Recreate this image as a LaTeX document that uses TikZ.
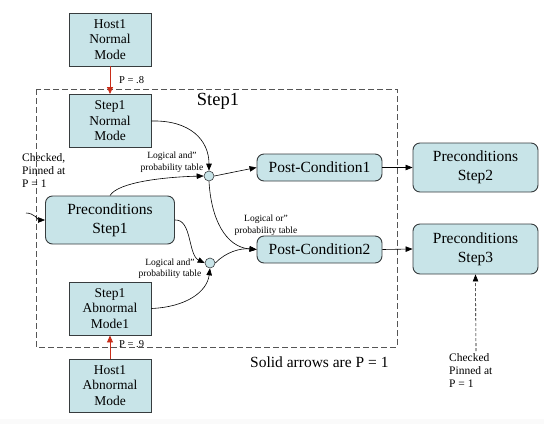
\documentclass[tikz,border=0pt]{standalone}
\usepackage{fontspec}
\setmainfont{Liberation Serif}
\usetikzlibrary{arrows.meta}
\definecolor{boxfill}{RGB}{200,228,232}
\definecolor{boxline}{RGB}{55,60,62}
\definecolor{hostred}{RGB}{200,45,25}
\definecolor{framegray}{RGB}{85,85,85}
\begin{document}
\begin{tikzpicture}[x=1pt,y=-1pt,
  sqbox/.style={draw=boxline,line width=0.9pt,fill=boxfill,align=center,
    minimum width=82pt,minimum height=53pt,inner sep=1pt,
    font=\fontsize{13.5}{15.5}\selectfont},
  rbox/.style={draw=boxline,line width=0.9pt,fill=boxfill,align=center,
    rounded corners=7pt,inner sep=1pt,
    font=\fontsize{15.5}{19}\selectfont},
  joint/.style={circle,draw=boxline,line width=0.6pt,fill=boxfill,
    minimum size=10pt,inner sep=0pt},
  flow/.style={line width=0.6pt,-{Triangle[length=7pt,width=5.5pt]}},
  pflow/.style={hostred,line width=0.9pt,-{Triangle[length=7pt,width=6pt]}},
  note/.style={font=\fontsize{9.5}{11.5}\selectfont,align=center,inner sep=0pt},
  pin/.style={font=\fontsize{11.5}{13}\selectfont,align=left,inner sep=0pt}]
\useasboundingbox (0,0) rectangle (544,424);
\fill[black!2] (0,419) rectangle (544,424);

% Step1 frame
\draw[framegray,line width=0.9pt,dash pattern=on 6pt off 3pt] (36,89) rectangle (397,347);
\node[font=\fontsize{18.5}{20}\selectfont,inner sep=0pt] (steptitle) at (218,101) {Step1};
\node[font=\fontsize{15.5}{18}\selectfont,inner sep=0pt,anchor=west] (legend) at (250,362) {Solid arrows are P = 1};

% boxes
\node[sqbox] (hn) at (110,39.5) {Host1\\Normal\\Mode};
\node[sqbox] (sn) at (110,121) {Step1\\Normal\\Mode};
\node[rbox,minimum width=129pt,minimum height=48pt] (pre1) at (110,220) {Preconditions\\Step1};
\node[sqbox] (sa) at (110,308.5) {Step1\\Abnormal\\Mode1};
\node[sqbox] (ha) at (110,385.5) {Host1\\Abnormal\\Mode};
\node[rbox,minimum width=125pt,minimum height=27pt] (post1) at (319.5,167.5) {Post-Condition1};
\node[rbox,minimum width=125pt,minimum height=27pt] (post2) at (319.5,249.5) {Post-Condition2};
\node[rbox,minimum width=125pt,minimum height=49pt] (pre2) at (475.5,167.5) {Preconditions\\Step2};
\node[rbox,minimum width=125pt,minimum height=50pt] (pre3) at (475.5,249) {Preconditions\\Step3};

% junctions
\node[joint] (c1) at (209,176) {};
\node[joint] (c2) at (210,263) {};

% labels
\node[note] (and1) at (172,162) {Logical and\textquotedblright\\probability table};
\node[note] (or1) at (266,225) {Logical or\textquotedblright\\probability table};
\node[note] (and2) at (170,268.5) {Logical and\textquotedblright\\probability table};
\node[font=\fontsize{10.5}{12}\selectfont,inner sep=0pt,anchor=west] (p8) at (119,80) {P = .8};
\node[font=\fontsize{10.5}{12}\selectfont,inner sep=0pt,anchor=west] (p9) at (119,344) {P = .9};
\node[pin,anchor=north west] (chk1) at (22,153) {Checked,\\Pinned at\\P = 1};
\node[pin,anchor=north west] (chk3) at (449,353) {Checked\\Pinned at\\P = 1};

% free ends
\coordinate (inleft) at (26,213);
\coordinate (inbottom) at (476,351);

% red probability arrows
\draw[pflow] (hn.south) -- (sn.north);
\draw[pflow] (ha.north) -- (sa.south);

% solid flow arrows
\draw[flow] (sn.east) .. controls (190,120) and (209,140) .. (c1.north);
\draw[flow] (pre1.north) .. controls (118,182) and (165,177) .. (c1.west);
\draw[flow] (c1.east) -- (post1.west);
\draw[flow] (c1.south) .. controls (211,218) and (225,247) .. (post2.west);
\draw[flow] (pre1.east) .. controls (192,219) and (188,255) .. (c2.west);
\draw[flow] (sa.east) .. controls (186,307) and (207,292) .. (c2.south);
\draw[flow] (c2.east) .. controls (226,252) and (240,248) .. (post2.west);
\draw[flow] (post1.east) -- (pre2.west);
\draw[flow] (post2.east) -- (pre3.west);
\draw[flow] (inleft) .. controls (34,213) and (39,220) .. (pre1.west);
\draw[flow,dash pattern=on 3pt off 2pt] (inbottom) -- (pre3.south);
\end{tikzpicture}
\end{document}
